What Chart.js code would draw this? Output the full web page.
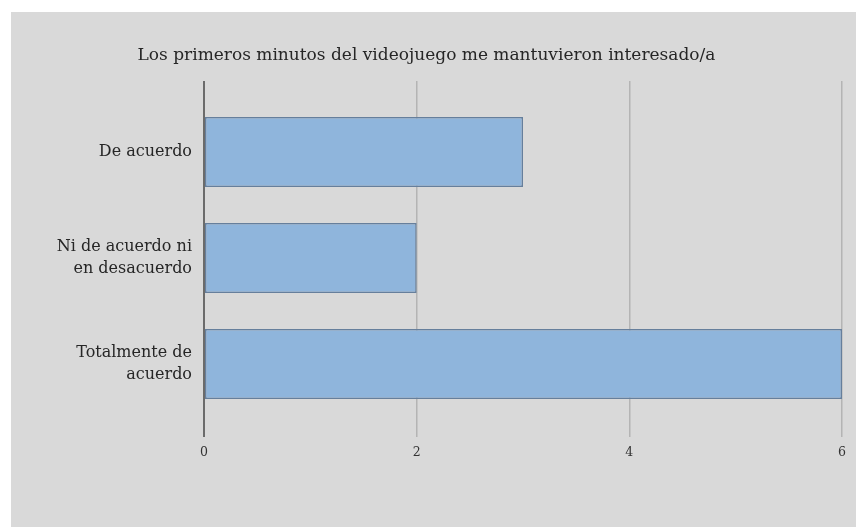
<!DOCTYPE html>
<html>
<head>
<meta charset="utf-8">
<script src="https://cdn.jsdelivr.net/npm/chart.js@4/dist/chart.umd.min.js"></script>
<style>
  body { margin: 0; background: #fff; }
  #wrap { position: absolute; left: 11px; top: 12px; }
  canvas { background: #d9d9d9; }
</style>
</head>
<body>
<div id="wrap"><canvas id="grafico" width="845" height="515"></canvas></div>
<script>
const titulo = 'Los primeros minutos del videojuego me mantuvieron interesado/a';
const respuestas = [
  'De acuerdo',
  ['Ni de acuerdo ni', 'en desacuerdo'],
  ['Totalmente de', 'acuerdo']
];
const cantidades = [3, 2, 6];
const marcas = [0, 2, 4, 6];

const serif = 'DejaVu Serif';

new Chart(document.getElementById('grafico'), {
  type: 'bar',
  data: {
    labels: respuestas,
    datasets: [{
      label: 'Respuestas',
      data: cantidades,
      backgroundColor: '#8fb5dc',
      borderColor: '#667f9c',
      borderWidth: 1.5,
      borderSkipped: false,
      categoryPercentage: 1,
      barPercentage: 0.66
    }]
  },
  options: {
    indexAxis: 'y',
    responsive: false,
    devicePixelRatio: 1,
    animation: false,
    layout: { padding: { left: 0, right: 14, top: 0, bottom: 0 } },
    plugins: {
      legend: { display: false },
      tooltip: { enabled: false },
      title: {
        display: true,
        text: titulo,
        color: '#262626',
        font: { family: serif, size: 17, weight: 'normal', lineHeight: '20px' },
        padding: { top: 34, bottom: 15 }
      }
    },
    scales: {
      x: {
        type: 'linear',
        position: 'bottom',
        min: 0,
        max: 6,
        afterBuildTicks: s => { s.ticks = marcas.map(v => ({ value: v })); },
        afterFit: s => { s.height = 110; },
        border: { display: false },
        grid: {
          color: c => c.tick && c.tick.value === 0 ? '#6b6b6b' : '#b4b4b4',
          lineWidth: c => c.tick && c.tick.value === 0 ? 2 : 1.5,
          tickLength: 20
        },
        ticks: {
          color: '#333',
          padding: 8,
          font: { family: serif, size: 12.5 }
        }
      },
      // axis on top only draws the short tick extensions above the bars
      x2: {
        type: 'linear',
        position: 'top',
        min: 0,
        max: 6,
        afterBuildTicks: s => { s.ticks = marcas.map(v => ({ value: v })); },
        afterFit: s => { s.height = 18; },
        border: { display: false },
        grid: {
          drawOnChartArea: false,
          color: c => c.tick && c.tick.value === 0 ? '#6b6b6b' : '#b4b4b4',
          lineWidth: c => c.tick && c.tick.value === 0 ? 2 : 1.5,
          tickLength: 18
        },
        ticks: { display: false }
      },
      y: {
        afterFit: s => { s.width = 193; },
        border: { display: false },
        grid: { display: false },
        ticks: {
          color: '#262626',
          padding: 4,
          font: { family: serif, size: 16, lineHeight: 1.35 }
        }
      }
    }
  }
});
</script>
</body>
</html>
